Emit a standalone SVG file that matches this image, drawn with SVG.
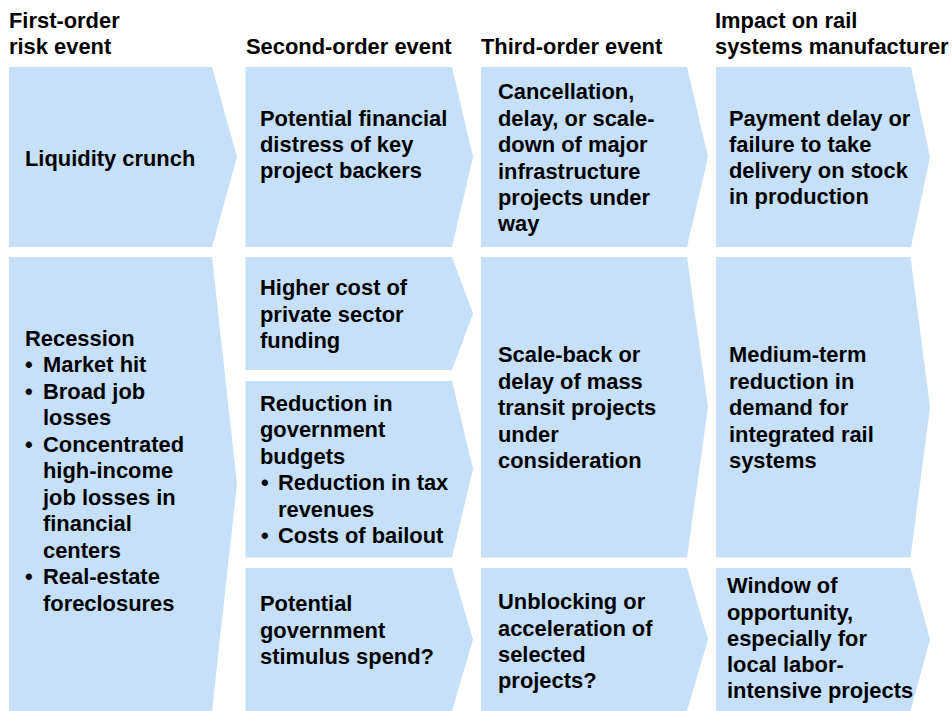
<svg xmlns="http://www.w3.org/2000/svg" width="952" height="711" viewBox="0 0 952 711">
<style>
.box{fill:#C6E0F9;stroke:none}
text{font-family:"Liberation Sans",Arial,Helvetica,sans-serif;font-weight:bold;font-size:21.9px;fill:#000}
</style>
<rect width="952" height="711" fill="#fff"/>
<g id="headers">
<text><tspan x="9" y="28">First-order</tspan><tspan x="9" y="54">risk event</tspan></text>
<text x="246" y="54">Second-order event</text>
<text x="481" y="54">Third-order event</text>
<text><tspan x="715" y="28">Impact on rail</tspan><tspan x="715" y="54">systems manufacturer</tspan></text>
</g>
<g id="connectors"></g>
<g id="n-liquidity">
<polygon class="box" points="9,67 212,67 237,157 212,247 9,247"/>
<text x="25" y="166">Liquidity crunch</text>
</g>
<g id="n-recession">
<polygon class="box" points="9,257 212,257 237,484 212,711 9,711"/>
<text>
<tspan x="25" y="345.5">Recession</tspan>
<tspan x="25" y="372">•</tspan><tspan x="43" y="372">Market hit</tspan>
<tspan x="25" y="398.5">•</tspan><tspan x="43" y="398.5">Broad job</tspan>
<tspan x="43" y="425">losses</tspan>
<tspan x="25" y="451.5">•</tspan><tspan x="43" y="451.5">Concentrated</tspan>
<tspan x="43" y="478">high-income</tspan>
<tspan x="43" y="504.5">job losses in</tspan>
<tspan x="43" y="531">financial</tspan>
<tspan x="43" y="557.5">centers</tspan>
<tspan x="25" y="584">•</tspan><tspan x="43" y="584">Real-estate</tspan>
<tspan x="43" y="610.5">foreclosures</tspan>
</text>
</g>
<g id="n-distress">
<polygon class="box" points="245.5,67 452,67 473,157 452,247 245.5,247"/>
<text><tspan x="260" y="126">Potential financial</tspan><tspan x="260" y="152">distress of key</tspan><tspan x="260" y="178">project backers</tspan></text>
</g>
<g id="n-private">
<polygon class="box" points="245.5,257 452,257 473,313.5 452,370 245.5,370"/>
<text><tspan x="260" y="295">Higher cost of</tspan><tspan x="260" y="321.5">private sector</tspan><tspan x="260" y="348">funding</tspan></text>
</g>
<g id="n-budgets">
<polygon class="box" points="245.5,381 452,381 473,469 452,557.5 245.5,557.5"/>
<text>
<tspan x="260" y="411">Reduction in</tspan>
<tspan x="260" y="437">government</tspan>
<tspan x="260" y="463.5">budgets</tspan>
<tspan x="261" y="490">•</tspan><tspan x="278" y="490">Reduction in tax</tspan>
<tspan x="278" y="516.5">revenues</tspan>
<tspan x="261" y="543">•</tspan><tspan x="278" y="543">Costs of bailout</tspan>
</text>
</g>
<g id="n-stimulus">
<polygon class="box" points="245.5,568 452,568 473,639.5 452,711 245.5,711"/>
<text><tspan x="260" y="611">Potential</tspan><tspan x="260" y="637.5">government</tspan><tspan x="260" y="664">stimulus spend?</tspan></text>
</g>
<g id="n-cancellation">
<polygon class="box" points="481,67 687,67 708,157 687,247 481,247"/>
<text><tspan x="498" y="99">Cancellation,</tspan><tspan x="498" y="125.5">delay, or scale-</tspan><tspan x="498" y="152">down of major</tspan><tspan x="498" y="178.5">infrastructure</tspan><tspan x="498" y="205">projects under</tspan><tspan x="498" y="231">way</tspan></text>
</g>
<g id="n-scaleback">
<polygon class="box" points="481,257 687,257 708,407 687,557.5 481,557.5"/>
<text><tspan x="498" y="362">Scale-back or</tspan><tspan x="498" y="388.5">delay of mass</tspan><tspan x="498" y="415">transit projects</tspan><tspan x="498" y="441.5">under</tspan><tspan x="498" y="468">consideration</tspan></text>
</g>
<g id="n-unblocking">
<polygon class="box" points="481,568 687,568 708,639.5 687,711 481,711"/>
<text><tspan x="498" y="609">Unblocking or</tspan><tspan x="498" y="635.5">acceleration of</tspan><tspan x="498" y="662">selected</tspan><tspan x="498" y="688">projects?</tspan></text>
</g>
<g id="n-payment">
<polygon class="box" points="716,67 911,67 930,157 911,247 716,247"/>
<text><tspan x="729" y="126">Payment delay or</tspan><tspan x="729" y="152">failure to take</tspan><tspan x="729" y="178">delivery on stock</tspan><tspan x="729" y="204">in production</tspan></text>
</g>
<g id="n-demand">
<polygon class="box" points="716,257 910.5,257 930,407 910.5,557.5 716,557.5"/>
<text><tspan x="729" y="362">Medium-term</tspan><tspan x="729" y="388.5">reduction in</tspan><tspan x="729" y="415">demand for</tspan><tspan x="729" y="441.5">integrated rail</tspan><tspan x="729" y="468">systems</tspan></text>
</g>
<g id="n-window">
<polygon class="box" points="716,568 910.5,568 930,639.5 910.5,711 716,711"/>
<text><tspan x="727" y="593">Window of</tspan><tspan x="727" y="619.5">opportunity,</tspan><tspan x="727" y="646">especially for</tspan><tspan x="727" y="672">local labor-</tspan><tspan x="727" y="698">intensive projects</tspan></text>
</g>
</svg>
